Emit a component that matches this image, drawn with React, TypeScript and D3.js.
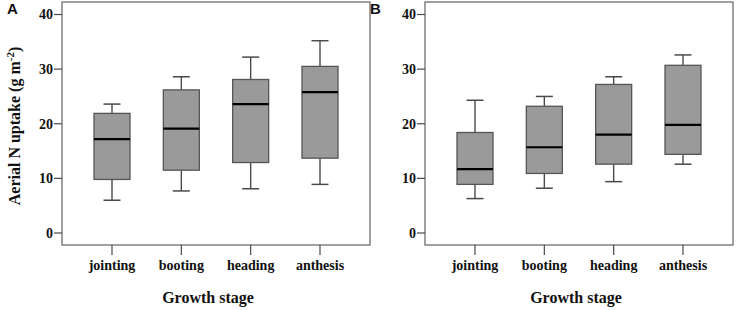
import React from "react";
import * as d3 from "d3";

const stages = ["jointing", "booting", "heading", "anthesis"];
const yTicks = [0, 10, 20, 30, 40];

// Panel A: [whiskerLow, Q1, median, Q3, whiskerHigh]
const panelALow = [6.0, 7.7, 8.1, 8.9];
const panelAQ1 = [9.8, 11.5, 12.9, 13.7];
const panelAMedian = [17.2, 19.1, 23.6, 25.8];
const panelAQ3 = [21.9, 26.2, 28.1, 30.5];
const panelAHigh = [23.6, 28.6, 32.2, 35.2];

// Panel B
const panelBLow = [6.3, 8.2, 9.4, 12.6];
const panelBQ1 = [8.9, 10.9, 12.6, 14.4];
const panelBMedian = [11.7, 15.7, 18.0, 19.8];
const panelBQ3 = [18.4, 23.2, 27.2, 30.7];
const panelBHigh = [24.3, 25.0, 28.6, 32.6];

const serif = "'Liberation Serif', 'Times New Roman', serif";
const sans = "'Liberation Sans', Arial, sans-serif";

type PanelProps = {
  x0: number;
  letter: string;
  low: number[];
  q1: number[];
  med: number[];
  q3: number[];
  high: number[];
  yLabel: boolean;
  titleX: number;
};

function Panel({ x0, letter, low, q1, med, q3, high, yLabel, titleX }: PanelProps) {
  const w = 308;
  const top = 2;
  const bottom = 245;
  const x = d3.scalePoint<string>().domain(stages).range([x0 + 50, x0 + 258]);
  const y = d3.scaleLinear().domain([0, 40]).range([233, 14.5]);
  const boxW = 36;
  const capW = 17;
  const frame = "#6e6e6e";
  const dark = "#4a4a4a";
  return (
    <g>
      <text x={x0 - 55} y={14} fontFamily={sans} fontWeight="bold" fontSize={15} fill="#111">
        {letter}
      </text>
      <rect x={x0} y={top} width={w} height={bottom - top} fill="none" stroke={frame} strokeWidth={1.3} />
      {yTicks.map((t) => (
        <g key={t}>
          <line x1={x0 - 8} x2={x0} y1={y(t)} y2={y(t)} stroke={dark} strokeWidth={1.2} />
          <text
            x={x0 - 9}
            y={y(t)}
            dy="0.35em"
            textAnchor="end"
            fontFamily={serif}
            fontWeight="bold"
            fontSize={14}
            fill="#111"
          >
            {t}
          </text>
        </g>
      ))}
      {stages.map((s, i) => {
        const cx = x(s) as number;
        return (
          <g key={s}>
            <line x1={cx} x2={cx} y1={bottom} y2={bottom + 10} stroke={dark} strokeWidth={1.2} />
            <text
              x={cx}
              y={270}
              textAnchor="middle"
              fontFamily={serif}
              fontWeight="bold"
              fontSize={14}
              fill="#111"
            >
              {s}
            </text>
            <line x1={cx} x2={cx} y1={y(high[i])} y2={y(q3[i])} stroke={dark} strokeWidth={1.4} />
            <line x1={cx} x2={cx} y1={y(q1[i])} y2={y(low[i])} stroke={dark} strokeWidth={1.4} />
            <line
              x1={cx - capW / 2}
              x2={cx + capW / 2}
              y1={y(high[i])}
              y2={y(high[i])}
              stroke={dark}
              strokeWidth={1.5}
            />
            <line
              x1={cx - capW / 2}
              x2={cx + capW / 2}
              y1={y(low[i])}
              y2={y(low[i])}
              stroke={dark}
              strokeWidth={1.5}
            />
            <rect
              x={cx - boxW / 2}
              y={y(q3[i])}
              width={boxW}
              height={y(q1[i]) - y(q3[i])}
              fill="#9a9a9a"
              stroke="#555"
              strokeWidth={1.3}
            />
            <line
              x1={cx - boxW / 2}
              x2={cx + boxW / 2}
              y1={y(med[i])}
              y2={y(med[i])}
              stroke="#000"
              strokeWidth={2.2}
            />
          </g>
        );
      })}
      <text
        x={titleX}
        y={303}
        textAnchor="middle"
        fontFamily={serif}
        fontWeight="bold"
        fontSize={16}
        fill="#111"
      >
        Growth stage
      </text>
      {yLabel && (
        <text
          transform={`translate(20, 126) rotate(-90)`}
          textAnchor="middle"
          fontFamily={serif}
          fontWeight="bold"
          fontSize={16}
          fill="#111"
        >
          Aerial N uptake (g m
          <tspan fontSize={11} dy={-6}>-2</tspan>
          <tspan dy={6}>)</tspan>
        </text>
      )}
    </g>
  );
}

export default function App() {
  return (
    <svg width={737} height={310} style={{ position: "absolute", left: 0, top: 0, background: "#fff" }}>
      <Panel
        x0={62}
        letter="A"
        low={panelALow}
        q1={panelAQ1}
        med={panelAMedian}
        q3={panelAQ3}
        high={panelAHigh}
        yLabel={true}
        titleX={208}
      />
      <Panel
        x0={425}
        letter="B"
        low={panelBLow}
        q1={panelBQ1}
        med={panelBMedian}
        q3={panelBQ3}
        high={panelBHigh}
        yLabel={false}
        titleX={576}
      />
    </svg>
  );
}
